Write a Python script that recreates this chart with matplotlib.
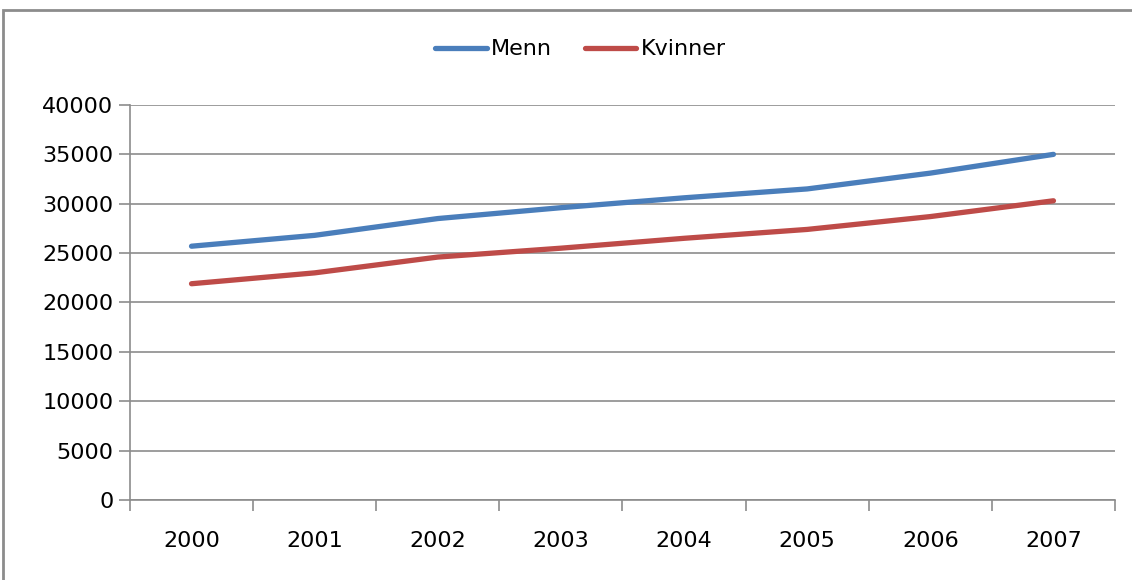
import numpy as np
import matplotlib.pyplot as plt
from matplotlib.patches import Rectangle

plt.rcParams['font.family'] = ['DejaVu Sans']

# data
years = ['2000', '2001', '2002', '2003', '2004', '2005', '2006', '2007']
menn = [25700, 26800, 28500, 29600, 30600, 31500, 33100, 35000]
kvinner = [21900, 23000, 24600, 25500, 26500, 27400, 28700, 30300]

fig = plt.figure(figsize=(11.32, 5.8), dpi=100)
# outer chart frame
fig.patches.append(Rectangle((0.003, -0.01), 1.2, 0.993, transform=fig.transFigure,
                             fill=False, edgecolor='#8c8c8c', linewidth=2))

ax = fig.add_axes([0.1148, 0.1379, 0.8702, 0.6811])
x = np.arange(len(years))
ax.plot(x, menn, color='#4A7EBB', linewidth=3.8, solid_capstyle='round', label='Menn')
ax.plot(x, kvinner, color='#BE4B48', linewidth=3.8, solid_capstyle='round', label='Kvinner')

ax.set_xlim(-0.5, len(years) - 0.5)
ax.set_ylim(0, 40000)
ax.set_yticks(range(0, 40001, 5000))
ax.set_xticks(x)
ax.set_xticklabels(years)
ax.set_xticks(np.arange(-0.5, len(years)), minor=True)

ax.grid(axis='y', color='#8c8c8c', linewidth=1.2)
ax.set_axisbelow(True)
for s in ['top', 'right']:
    ax.spines[s].set_visible(False)
for s in ['left', 'bottom']:
    ax.spines[s].set_color('#8c8c8c')
    ax.spines[s].set_linewidth(1.2)

ax.tick_params(axis='x', which='major', length=0, pad=22, labelsize=16)
ax.tick_params(axis='x', which='minor', length=8, color='#8c8c8c', width=1.2)
ax.tick_params(axis='y', length=8, color='#8c8c8c', width=1.2, labelsize=16, pad=4)

fig.legend(loc='center', bbox_to_anchor=(0.513, 0.915), ncol=2, frameon=False,
           fontsize=16, handlelength=2.3, handletextpad=0.2, columnspacing=1.5)

fig.savefig('out.png', dpi=100)
